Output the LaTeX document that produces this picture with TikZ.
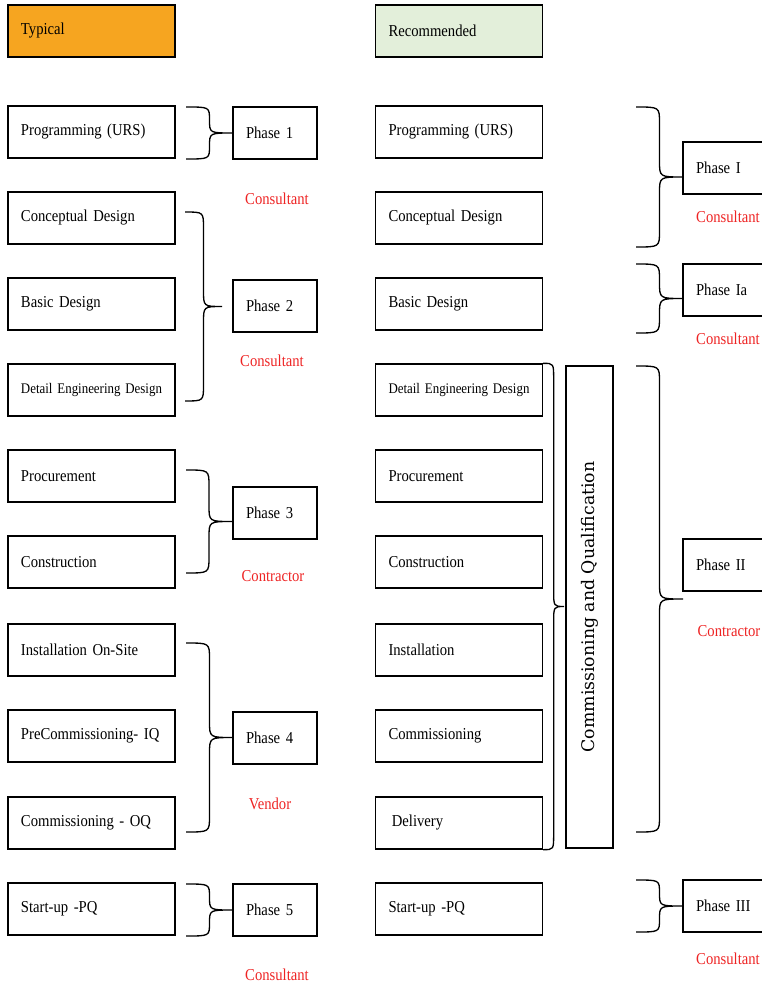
\documentclass[tikz,border=0pt]{standalone}
\usepackage{fontspec}
\setmainfont[FakeStretch=0.88]{Liberation Serif}
\newfontfamily\cqfont{DejaVu Serif}
\usetikzlibrary{positioning, calc}

\definecolor{typorange}{RGB}{246,165,32}
\definecolor{recgreen}{RGB}{227,239,218}
\definecolor{whored}{RGB}{238,36,36}

\newcommand\boxfont[1]{\fontsize{#1}{#1}\selectfont\spaceskip=0.21em plus 0.05em}

\begin{document}
\begin{tikzpicture}[x=0.75pt, y=-0.75pt, line width=1pt, font=\boxfont{12.5pt}]
    \clip (0,0) rectangle (762,987);

    % Define styles
    \tikzset{
        stepbox/.style={draw, minimum height=39pt, text width=105.75pt, inner xsep=9.75pt, align=left},
        phasebox/.style={draw, minimum height=39pt, text width=43.5pt, inner xsep=9.75pt, align=left},
        who/.style={text=whored},
        curly/.style={to path={let \p1=(\tikztostart), \p2=(\tikztotarget),
                \n1={min(12,0.25*(\y1-\y2))} in
            .. controls ({\x1+0.5*#1},\y1) .. ({\x1+0.5*#1},{\y1-\n1*1pt})
            -- ({\x1+0.5*#1},{0.5*(\y1+\y2)+\n1*1pt})
            .. controls ({\x1+0.5*#1},{0.5*(\y1+\y2)}) .. ({\x1+#1},{0.5*(\y1+\y2)})
            .. controls ({\x1+0.5*#1},{0.5*(\y1+\y2)}) .. ({\x1+0.5*#1},{0.5*(\y1+\y2)-\n1*1pt})
            -- ({\x1+0.5*#1},{\y2+\n1*1pt})
            .. controls ({\x1+0.5*#1},\y2) .. (\x2,\y2)}}
    }

    % Define nodes
    \node[stepbox, fill=typorange] (Typical) at (91.5,31) {Typical};
    \node[stepbox, fill=recgreen] (Recommended) at (459,31) {Recommended};

    \node[stepbox] (TypProgramming) at (91.5,132) {Programming (URS)};
    \node[stepbox] (TypConceptual) at (91.5,218) {Conceptual Design};
    \node[stepbox] (TypBasic) at (91.5,304) {Basic Design};
    \node[stepbox, font=\boxfont{11pt}] (TypDetail) at (91.5,390) {Detail Engineering Design};
    \node[stepbox] (TypProcurement) at (91.5,476) {Procurement};
    \node[stepbox] (TypConstruction) at (91.5,562) {Construction};
    \node[stepbox] (TypInstallation) at (91.5,650) {Installation On-Site};
    \node[stepbox] (TypPreComm) at (91.5,736) {PreCommissioning- IQ};
    \node[stepbox] (TypComm) at (91.5,823) {Commissioning - OQ};
    \node[stepbox] (TypStartup) at (91.5,909) {Start-up -PQ};

    \node[stepbox] (RecProgramming) at (459,132) {Programming (URS)};
    \node[stepbox] (RecConceptual) at (459,218) {Conceptual Design};
    \node[stepbox] (RecBasic) at (459,304) {Basic Design};
    \node[stepbox, font=\boxfont{11pt}] (RecDetail) at (459,390) {Detail Engineering Design};
    \node[stepbox] (RecProcurement) at (459,476) {Procurement};
    \node[stepbox] (RecConstruction) at (459,562) {Construction};
    \node[stepbox] (RecInstallation) at (459,650) {Installation};
    \node[stepbox] (RecComm) at (459,736) {Commissioning};
    \node[stepbox] (RecDelivery) at (459,823) {\hspace*{2.5pt}Delivery};
    \node[stepbox] (RecStartup) at (459,909) {Start-up -PQ};

    \node[draw, minimum width=361.5pt, minimum height=35.25pt, rotate=90,
        font=\cqfont\fontsize{13}{15}\selectfont] (CommQual) at (589.5,607) {Commissioning and Qualification};

    \node[phasebox] (PhaseOne) at (275,133) {Phase 1};
    \node[phasebox] (PhaseTwo) at (275,306) {Phase 2};
    \node[phasebox] (PhaseThree) at (275,513) {Phase 3};
    \node[phasebox] (PhaseFour) at (275,738) {Phase 4};
    \node[phasebox] (PhaseFive) at (275,910) {Phase 5};

    \node[phasebox] (PhaseI) at (725,168) {Phase I};
    \node[phasebox] (PhaseIa) at (725,290) {Phase Ia};
    \node[phasebox] (PhaseII) at (725,565) {Phase II};
    \node[phasebox] (PhaseIII) at (725,906) {Phase III};

    \node[who] (WhoOne) at (277,199) {Consultant};
    \node[who] (WhoTwo) at (272,361) {Consultant};
    \node[who] (WhoThree) at (273,576) {Contractor};
    \node[who] (WhoFour) at (270,804) {Vendor};
    \node[who] (WhoFive) at (277,975) {Consultant};
    \node[who] (WhoI) at (728,217) {Consultant};
    \node[who] (WhoIa) at (728,339) {Consultant};
    \node[who] (WhoII) at (729,631) {Contractor};
    \node[who] (WhoIII) at (728,959) {Consultant};

    % Brace ends
    \coordinate (OneTop) at (186,107);   \coordinate (OneBot) at (186,159);
    \coordinate (TwoTop) at (185,212);   \coordinate (TwoBot) at (185,401);
    \coordinate (ThreeTop) at (186,470); \coordinate (ThreeBot) at (186,573);
    \coordinate (FourTop) at (186,643);  \coordinate (FourBot) at (186,832);
    \coordinate (FiveTop) at (186,884);  \coordinate (FiveBot) at (186,936);
    \coordinate (ITop) at (636,107);     \coordinate (IBot) at (636,247);
    \coordinate (IaTop) at (636,264);    \coordinate (IaBot) at (636,333);
    \coordinate (IITop) at (636,366);    \coordinate (IIBot) at (636,832);
    \coordinate (IIITop) at (636,880);   \coordinate (IIIBot) at (636,932);

    % Draw braces
    \draw (OneTop) to[curly=35.25pt] (OneBot);
    \draw (TwoTop) to[curly=27.75pt] (TwoBot);
    \draw (ThreeTop) to[curly=34.5pt] (ThreeBot);
    \draw (FourTop) to[curly=35.25pt] (FourBot);
    \draw (FiveTop) to[curly=35.25pt] (FiveBot);
    \draw (ITop) to[curly=35.25pt] (IBot);
    \draw (IaTop) to[curly=35.25pt] (IaBot);
    \draw (IITop) to[curly=35.25pt] (IIBot);
    \draw (IIITop) to[curly=35.25pt] (IIIBot);
    \draw (RecDetail.north east) to[curly=15.75pt] (RecDelivery.south east);
\end{tikzpicture}
\end{document}
